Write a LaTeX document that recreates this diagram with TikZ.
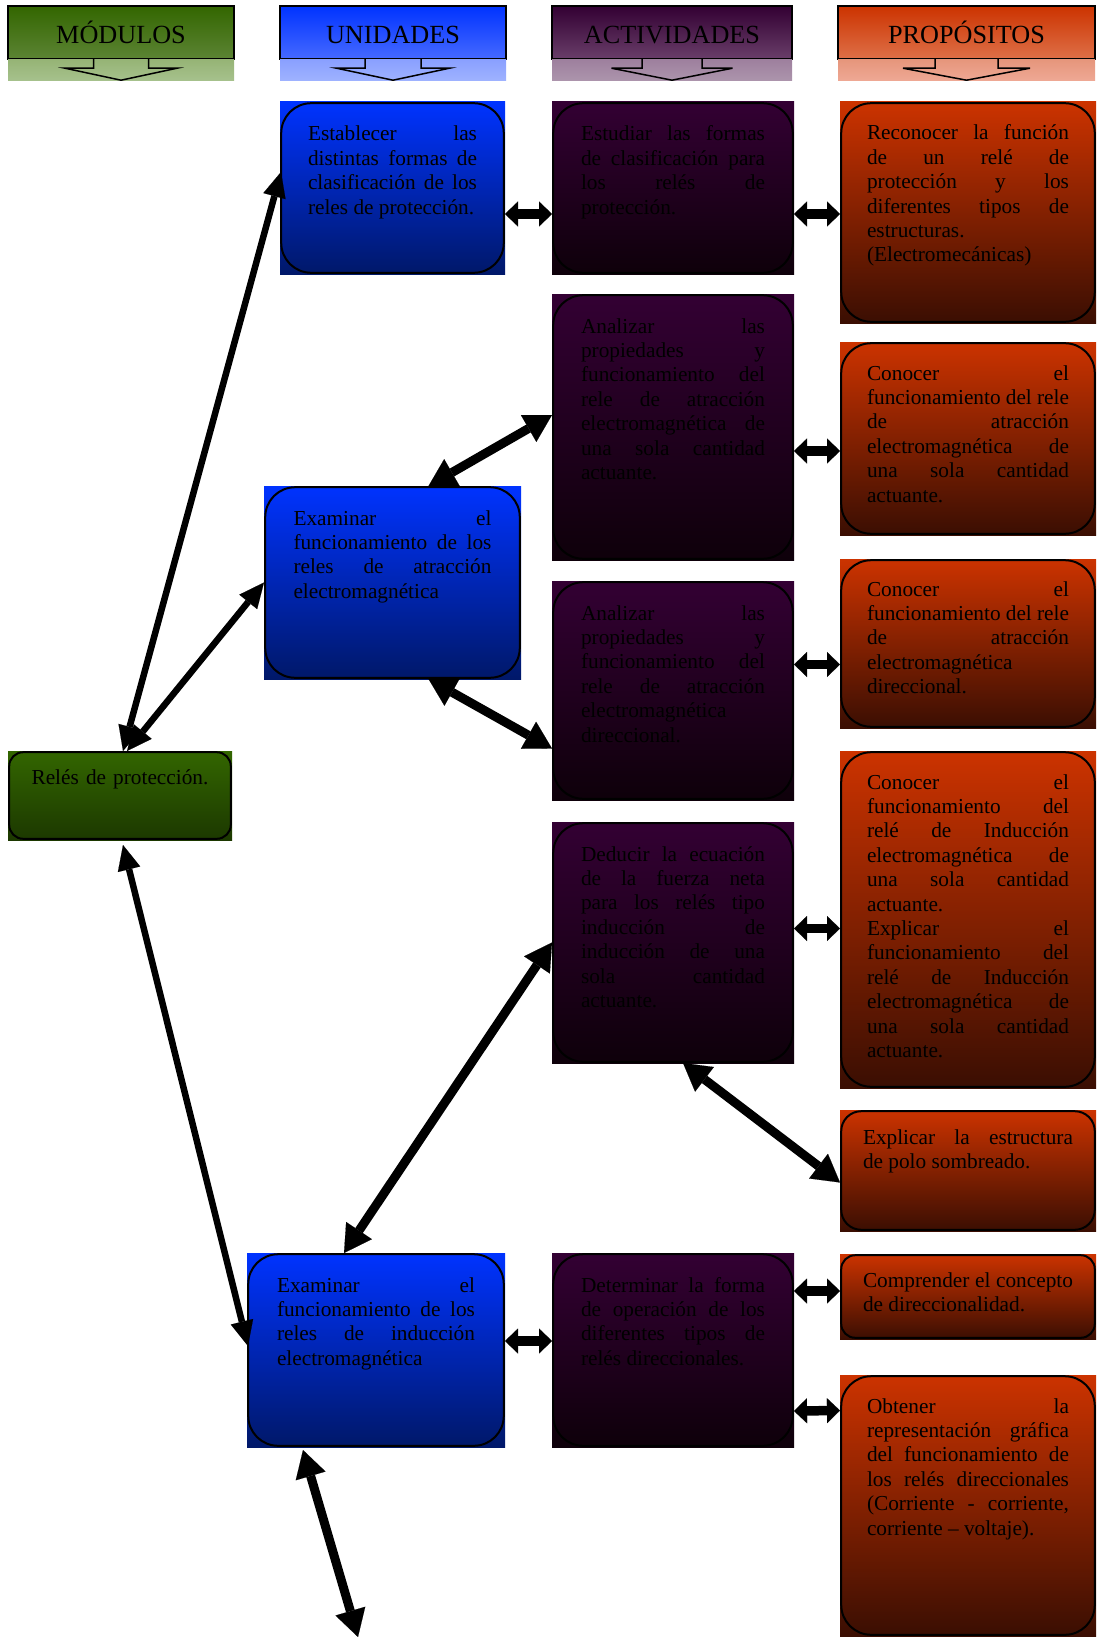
\documentclass[tikz,border=0pt]{standalone}
\usepackage{fontspec}
\setmainfont{Liberation Serif}
\usepackage{tikz}
\usetikzlibrary{shapes,arrows.meta,positioning,calc}
\definecolor{modtop}{RGB}{51,102,0}
\definecolor{modbot}{RGB}{28,56,0}
\definecolor{modmid}{RGB}{92,132,52}
\definecolor{modba}{RGB}{150,180,118}
\definecolor{modbb}{RGB}{166,193,140}
\definecolor{unitop}{RGB}{0,51,255}
\definecolor{unibot}{RGB}{0,24,105}
\definecolor{unimid}{RGB}{70,105,255}
\definecolor{uniba}{RGB}{138,160,255}
\definecolor{unibb}{RGB}{158,178,255}
\definecolor{acttop}{RGB}{51,0,51}
\definecolor{actbot}{RGB}{14,0,10}
\definecolor{actmid}{RGB}{105,62,105}
\definecolor{actba}{RGB}{158,128,158}
\definecolor{actbb}{RGB}{172,148,172}
\definecolor{protop}{RGB}{204,51,0}
\definecolor{probot}{RGB}{58,14,2}
\definecolor{promid}{RGB}{222,112,72}
\definecolor{proba}{RGB}{230,150,124}
\definecolor{probb}{RGB}{238,168,148}
\hyphenpenalty=10000
\exhyphenpenalty=10000
\tolerance=10000
\hbadness=10000

\begin{document}
\begin{tikzpicture}[x=1pt, y=-1pt,
    every node/.style={font=\fontsize{21.3}{24.4}\selectfont, outer sep=0pt},
    titulo/.style={anchor=north west, inner sep=0pt, draw, line width=1.5pt,
        text height=37.5pt, text depth=15.7pt, font=\fontsize{26.2}{30}\selectfont},
    caja/.style={anchor=north west, inner sep=0pt, text height=39pt, align=justify,
        path picture={\draw[line width=2pt, rounded corners=#1]
            ([shift={(1.2pt,-1.2pt)}]path picture bounding box.north west) rectangle
            ([shift={(-1.2pt,1.2pt)}]path picture bounding box.south east);}},
    caja/.default=30pt,
    modu/.style={top color=modtop, bottom color=modbot},
    unid/.style={top color=unitop, bottom color=unibot},
    activ/.style={top color=acttop, bottom color=actbot},
    prop/.style={top color=protop, bottom color=probot},
    punta/.style={line width=1.5pt, line join=miter},
    flecha/.style={line width=6.5pt, >={Triangle[width=23pt,length=25pt,line width=0.1pt]}, <->},
    larga/.style={line width=9pt, >={Triangle[width=31pt,length=27pt,line width=0.1pt]}, <->},
    corta/.style={line width=9.5pt, >={Triangle[width=25pt,length=13pt,line width=0.1pt]}, <->}]
    \useasboundingbox (0,0) rectangle (1103,1637);

    % Titulos
    \node[titulo, top color=modtop, bottom color=modmid, minimum width=226pt] (hmod) at (8,6) {MÓDULOS};
    \node[titulo, top color=unitop, bottom color=unimid, minimum width=226pt] (huni) at (280,6) {UNIDADES};
    \node[titulo, top color=acttop, bottom color=actmid, minimum width=240pt] (hact) at (552,6) {ACTIVIDADES};
    \node[titulo, top color=protop, bottom color=promid, minimum width=257pt] (hpro) at (838,6) {PROPÓSITOS};

    % Bandas bajo los titulos
    \shade[top color=modba, bottom color=modbb] ($(hmod.south west)+(0,0.75)$) rectangle ($(hmod.south east)+(0,21)$);
    \shade[top color=uniba, bottom color=unibb] ($(huni.south west)+(0,0.75)$) rectangle ($(huni.south east)+(0,21)$);
    \shade[top color=actba, bottom color=actbb] ($(hact.south west)+(0,0.75)$) rectangle ($(hact.south east)+(0,21)$);
    \shade[top color=proba, bottom color=probb] ($(hpro.south west)+(0,0.75)$) rectangle ($(hpro.south east)+(0,21)$);

    % Puntas de los titulos
    \draw[punta] ($(hmod.south)+(-27.5,0)$) -- ++(0,9) -- ++(-28.5,0) -- ($(hmod.south)+(0,21)$) -- ($(hmod.south)+(56,9)$) -- ++(-28.5,0) -- ++(0,-9);
    \draw[punta] ($(huni.south)+(-28,0)$) -- ++(0,9) -- ++(-28.5,0) -- ($(huni.south)+(0,21)$) -- ($(huni.south)+(56.5,9)$) -- ++(-28.5,0) -- ++(0,-9);
    \draw[punta] ($(hact.south)+(-30,0)$) -- ++(0,9) -- ++(-30.5,0) -- ($(hact.south)+(0,21)$) -- ($(hact.south)+(60.5,9)$) -- ++(-30.5,0) -- ++(0,-9);
    \draw[punta] ($(hpro.south)+(-31.5,0)$) -- ++(0,9) -- ++(-32,0) -- ($(hpro.south)+(0,21)$) -- ($(hpro.south)+(63.5,9)$) -- ++(-32,0) -- ++(0,-9);

    % Modulo
    \node[caja=14pt, modu, align=center, minimum width=224pt, text width=190pt, text height=33pt, text depth=56pt] (m1) at (8,751) {Relés de protección.};

    % Unidades
    \node[caja, unid, minimum width=225pt, text width=169pt, text depth=133pt] (u1) at (280,102) {Establecer las\linebreak distintas formas de\linebreak clasificación de los\linebreak reles de protección.};
    \node[caja, unid, minimum width=257pt, text width=198pt, text depth=154pt] (u2) at (264,486) {Examinar el\linebreak funcionamiento de los\linebreak reles de atracción\linebreak electromagnética};
    \node[caja, unid, minimum width=258pt, text width=198pt, text depth=155pt] (u3) at (247,1253) {Examinar el\linebreak funcionamiento de los\linebreak reles de inducción\linebreak electromagnética};

    % Actividades
    \node[caja, activ, minimum width=242pt, text width=184pt, text depth=133pt] (a1) at (552,102) {Estudiar las formas\linebreak de clasificación para\linebreak los relés de\linebreak protección.};
    \node[caja, activ, minimum width=242pt, text width=184pt, text depth=227pt] (a2) at (552,294) {Analizar las\linebreak propiedades y\linebreak funcionamiento del\linebreak rele de atracción\linebreak electromagnética de\linebreak una sola cantidad\linebreak actuante.};
    \node[caja, activ, minimum width=242pt, text width=184pt, text depth=180pt] (a3) at (552,581) {Analizar las\linebreak propiedades y\linebreak funcionamiento del\linebreak rele de atracción\linebreak electromagnética\linebreak direccional.};
    \node[caja, activ, minimum width=242pt, text width=184pt, text depth=202pt] (a4) at (552,822) {Deducir la ecuación\linebreak de la fuerza neta\linebreak para los relés tipo\linebreak inducción de\linebreak inducción de una\linebreak sola cantidad\linebreak actuante.};
    \node[caja, activ, minimum width=242pt, text width=184pt, text depth=155pt] (a5) at (552,1253) {Determinar la forma\linebreak de operación de los\linebreak diferentes tipos de\linebreak relés direccionales.};

    % Propositos
    \node[caja, prop, minimum width=256pt, text width=202pt, text height=38pt, text depth=183pt] (p1) at (840,102) {Reconocer la función\linebreak de un relé de\linebreak protección y los\linebreak diferentes tipos de\linebreak estructuras.\linebreak (Electromecánicas)};
    \node[caja, prop, minimum width=256pt, text width=202pt, text height=38pt, text depth=155pt] (p2) at (840,342) {Conocer el\linebreak funcionamiento del rele\linebreak de atracción\linebreak electromagnética de\linebreak una sola cantidad\linebreak actuante.};
    \node[caja, prop, minimum width=256pt, text width=202pt, text height=37pt, text depth=132pt] (p3) at (840,559) {Conocer el\linebreak funcionamiento del rele\linebreak de atracción\linebreak electromagnética\linebreak direccional.};
    \node[caja, prop, minimum width=256pt, text width=202pt, text height=38pt, text depth=299pt] (p4) at (840,751) {Conocer el\linebreak funcionamiento del\linebreak relé de Inducción\linebreak electromagnética de\linebreak una sola cantidad\linebreak actuante.\\ Explicar el\linebreak funcionamiento del\linebreak relé de Inducción\linebreak electromagnética de\linebreak una sola cantidad\linebreak actuante.};
    \node[caja=20pt, prop, minimum width=256pt, text width=210pt, text height=34pt, text depth=87pt] (p5) at (840,1110) {Explicar la estructura\linebreak de polo sombreado.};
    \node[caja=14pt, prop, minimum width=256pt, text width=210pt, text height=33pt, text depth=52pt] (p6) at (840,1254) {Comprender el concepto\linebreak de direccionalidad.};
    \node[caja, prop, minimum width=256pt, text width=202pt, text height=38pt, text depth=223pt] (p7) at (840,1375) {Obtener la\linebreak representación gráfica\linebreak del funcionamiento de\linebreak los relés direccionales\linebreak (Corriente - corriente,\linebreak corriente – voltaje).};

    \coordinate (fin) at (358,1637);

    % Edges
    \draw[flecha] ($(m1.north)+(3,0)$) -- ($(u1.west)+(1,-16)$);
    \draw[flecha] ($(m1.north)+(7,0)$) -- (u2.west);
    \draw[flecha] ($(m1.south)+(3,5)$) -- ($(u3.west)+(1,-4)$);
    \draw[corta] ($(u1.east)+(0,26)$) -- ($(a1.west)+(0,26)$);
    \draw[larga] ($(u2.north)+(36,0)$) -- ($(a2.west)+(0,-12)$);
    \draw[larga] ($(u2.south)+(36,0)$) -- ($(a3.west)+(0,58)$);
    \draw[larga] ($(u3.north)+(-32,0)$) -- (a4.west);
    \draw[corta] ($(u3.east)+(0,-9)$) -- ($(a5.west)+(0,-9)$);
    \draw[larga] ($(u3.south)+(-73,3)$) -- (fin);
    \draw[corta] ($(a1.east)+(0,26)$) -- ($(p1.west)+(0,1.5)$);
    \draw[corta] ($(a2.east)+(0,24)$) -- ($(p2.west)+(0,12.5)$);
    \draw[corta] ($(a3.east)+(0,-26)$) -- ($(p3.west)+(0,21)$);
    \draw[corta] ($(a4.east)+(0,-14)$) -- ($(p4.west)+(0,9)$);
    \draw[larga] ($(a4.south)+(10,0)$) -- ($(p5.west)+(0,12)$);
    \draw[corta] ($(a5.east)+(0,-59)$) -- ($(p6.west)+(0,-5.5)$);
    \draw[corta] ($(a5.east)+(0,61)$) -- ($(p7.west)+(0,-95)$);
\end{tikzpicture}
\end{document}
